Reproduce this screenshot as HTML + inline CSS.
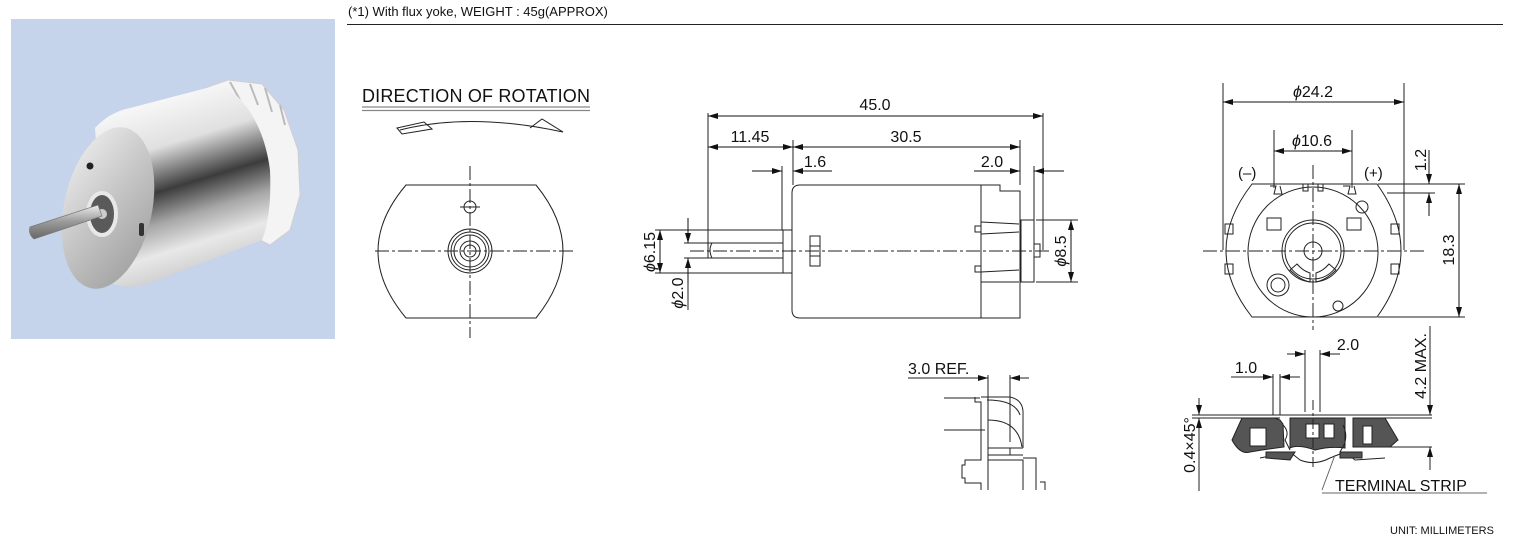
<!DOCTYPE html>
<html><head><meta charset="utf-8"><style>
html,body{margin:0;padding:0;background:#fff;width:1516px;height:546px;overflow:hidden}
svg{display:block}
text{font-family:"Liberation Sans",sans-serif;fill:#111}
</style></head><body>
<svg width="1516" height="546" viewBox="0 0 1516 546" xmlns="http://www.w3.org/2000/svg">
<defs>
<linearGradient id="can" gradientUnits="userSpaceOnUse" x1="165" y1="100" x2="215" y2="265">
<stop offset="0" stop-color="#f6f6f6"/><stop offset="0.25" stop-color="#e0e0e0"/><stop offset="0.5" stop-color="#3c3c3c"/><stop offset="0.68" stop-color="#a8a8a8"/><stop offset="0.85" stop-color="#e8e8e8"/><stop offset="1" stop-color="#d0d0d0"/>
</linearGradient>
<linearGradient id="face" x1="0" y1="0" x2="1" y2="1">
<stop offset="0" stop-color="#f2f2f2"/><stop offset="0.45" stop-color="#c8c8c8"/><stop offset="1" stop-color="#9a9a9a"/>
</linearGradient>
<linearGradient id="shaft" x1="0" y1="0" x2="0" y2="1">
<stop offset="0" stop-color="#eee"/><stop offset="0.5" stop-color="#999"/><stop offset="1" stop-color="#666"/>
</linearGradient>
<marker id="a" viewBox="0 0 10 6" refX="10" refY="3" markerWidth="10" markerHeight="6" orient="auto-start-reverse" markerUnits="userSpaceOnUse"><path d="M0,0 L10,3 L0,6 z" fill="#111"/></marker>
</defs>

<text x="348" y="16" font-size="13">(*1) With flux yoke, WEIGHT : 45g(APPROX)</text>
<line x1="347" y1="24.5" x2="1503" y2="24.5" stroke="#222" stroke-width="1"/>

<rect x="11" y="19" width="324" height="320" fill="#c5d3eb"/>
<g>
<path d="M205,88 L228,80 L262,84 L284,110 L298,150 L300,195 L290,230 L270,245 L250,235 Z" fill="#f4f4f4" stroke="#d0d0d0"/>
<path d="M230,82 L240,100 M250,84 L258,105 M265,88 L272,112 M280,105 L285,125" stroke="#bbb" stroke-width="2"/>
<path d="M95,128 Q110,112 130,108 L222,84 Q262,110 270,170 Q272,215 262,240 L145,285 Q120,290 105,280 Z" fill="url(#can)"/>
<ellipse cx="108" cy="208" rx="44" ry="82" transform="rotate(12 108 208)" fill="url(#face)"/>
<ellipse cx="102" cy="214" rx="14" ry="21" fill="#5a5a5a" stroke="#e8e8e8" stroke-width="4"/>
<circle cx="102" cy="214" r="5" fill="#ccc"/>
<path d="M30,227 L98,205 L102,216 L34,239 Q28,234 30,227 Z" fill="url(#shaft)" stroke="#777" stroke-width="0.7"/>
<circle cx="90" cy="166" r="3.5" fill="#222"/>
<rect x="139" y="223" width="5" height="13" rx="2" fill="#333"/>
</g>

<text x="362" y="102" font-size="18" textLength="228">DIRECTION OF ROTATION</text>
<line x1="362" y1="107" x2="590" y2="107" stroke="#888" stroke-width="1.2"/>
<line x1="362" y1="110.5" x2="590" y2="110.5" stroke="#888" stroke-width="1.2"/>
<g fill="none" stroke="#222" stroke-width="1">
<path d="M400,130 Q470,112 563,132"/>
<path d="M397,128 L424,122 L432,129 L402,134 Z"/>
<path d="M530,128 L542,119 L563,132"/>
<path d="M406,185 L536,185 Q590,251 536,318 L406,318 Q350,251 406,185 Z"/>
<circle cx="470" cy="207" r="6"/>
<line x1="460" y1="207" x2="480" y2="207"/>
<circle cx="470" cy="251" r="22"/><circle cx="470" cy="251" r="19"/><circle cx="470" cy="251" r="16"/><circle cx="470" cy="251" r="10"/><circle cx="470" cy="251" r="6"/>
</g>
<g stroke="#222" stroke-width="1" stroke-dasharray="14,3,3,3">
<line x1="470" y1="166" x2="470" y2="338"/>
<line x1="375" y1="251" x2="576" y2="251"/>
</g>

<g fill="none" stroke="#222" stroke-width="1">
<path d="M800,185 L981,185 M981,185 L981,318 M800,318 L1020,318 L1020,191 L1000,191 L1000,185 L981,185"/>
<path d="M800,185 Q792,185 792,193 L792,310 Q792,318 800,318"/>
<rect x="783" y="230" width="9" height="43"/>
<path d="M708,243 L783,243 M708,258 L783,258 M712,243 Q708,250 712,258"/>
<rect x="1021" y="220" width="13" height="62"/>
<rect x="1034" y="244" width="6" height="13"/>
<path d="M981,222 L1019,224 M981,234 L1019,232 M975,226 L981,226 L981,232 L975,232 Z"/>
<path d="M981,272 L1019,270 M981,282 L1019,282 M975,266 L981,266 L981,272 L975,272 Z"/>
<rect x="810" y="236" width="10" height="30"/>
<line x1="810" y1="246" x2="820" y2="246"/><line x1="810" y1="256" x2="820" y2="256"/>
<line x1="708" y1="113" x2="708" y2="258"/>
<line x1="1043" y1="113" x2="1043" y2="250"/>
<line x1="793" y1="140" x2="793" y2="185"/>
<line x1="1020" y1="140" x2="1020" y2="185"/>
<line x1="782" y1="166" x2="782" y2="230"/>
<line x1="1034" y1="166" x2="1034" y2="220"/>
<line x1="655" y1="230" x2="783" y2="230"/><line x1="655" y1="273" x2="783" y2="273"/>
<line x1="684" y1="243" x2="708" y2="243"/><line x1="684" y1="258" x2="708" y2="258"/>
<line x1="688" y1="218" x2="688" y2="243"/><line x1="688" y1="258" x2="688" y2="310"/>
<line x1="1036" y1="220" x2="1078" y2="220"/><line x1="1036" y1="282" x2="1078" y2="282"/>
</g>
<g stroke="#111" stroke-width="1" fill="none">
<line x1="708" y1="116" x2="1043" y2="116" marker-start="url(#a)" marker-end="url(#a)"/>
<line x1="708" y1="147" x2="793" y2="147" marker-start="url(#a)" marker-end="url(#a)"/>
<line x1="793" y1="147" x2="1020" y2="147" marker-start="url(#a)" marker-end="url(#a)"/>
<line x1="752" y1="171" x2="782" y2="171" marker-end="url(#a)"/>
<line x1="832" y1="171" x2="793" y2="171" marker-end="url(#a)"/>
<line x1="974" y1="171" x2="1020" y2="171" marker-end="url(#a)"/>
<line x1="1064" y1="171" x2="1034" y2="171" marker-end="url(#a)"/>
<line x1="660" y1="230" x2="660" y2="273" marker-start="url(#a)" marker-end="url(#a)"/>
<line x1="688" y1="218" x2="688" y2="243" marker-end="url(#a)"/>
<line x1="688" y1="283" x2="688" y2="258" marker-end="url(#a)"/>
<line x1="1071" y1="220" x2="1071" y2="282" marker-start="url(#a)" marker-end="url(#a)"/>
</g>
<line x1="690" y1="251" x2="1050" y2="251" stroke="#222" stroke-dasharray="14,3,3,3"/>
<g font-size="16">
<text x="875" y="110" text-anchor="middle">45.0</text>
<text x="750" y="142" text-anchor="middle">11.45</text>
<text x="906" y="142" text-anchor="middle">30.5</text>
<text x="815" y="167" text-anchor="middle">1.6</text>
<text x="992" y="167" text-anchor="middle">2.0</text>
<text transform="translate(655,252) rotate(-90)" text-anchor="middle"><tspan font-style="italic">ϕ</tspan>6.15</text>
<text transform="translate(683,293) rotate(-90)" text-anchor="middle"><tspan font-style="italic">ϕ</tspan>2.0</text>
<text transform="translate(1066,251) rotate(-90)" text-anchor="middle"><tspan font-style="italic">ϕ</tspan>8.5</text>
</g>

<text x="908" y="374" font-size="16">3.0 REF.</text>
<g fill="none" stroke="#222" stroke-width="1">
<line x1="908" y1="378" x2="988" y2="378" marker-end="url(#a)"/>
<line x1="1029" y1="378" x2="1010" y2="378" marker-end="url(#a)"/>
<line x1="988" y1="375" x2="988" y2="420"/>
<line x1="1010" y1="375" x2="1010" y2="442"/>
<line x1="944" y1="398" x2="980" y2="398"/>
<line x1="944" y1="430" x2="985" y2="430"/>
<path d="M975,397 L975,402 L981,402 L981,460 L965,460 L965,465 L962,465 L962,478 L965,478 L965,483 L981,483 L981,490"/>
<path d="M981,397 L1010,397 Q1024,400 1023,415 L1023,448 M987,400 Q1015,400 1020,415"/>
<path d="M988,420 Q1018,420 1022,447"/>
<path d="M988,420 L988,490 M988,448 L1023,448 M988,455 L1023,455 M1010,448 L1010,455 M988,460 L1023,460 L1023,490 M1023,458 L1036,458 L1036,490 M1040,482 L1045,482 L1045,490"/>
</g>

<g fill="none" stroke="#222" stroke-width="1">
<path d="M1252,184 L1377,184 Q1425,251 1377,317 L1252,317 Q1200,251 1252,184 Z"/>
<circle cx="1313" cy="252" r="65"/>
<circle cx="1313" cy="251" r="31"/><circle cx="1313" cy="251" r="28"/>
<circle cx="1313" cy="251" r="9"/>
<path d="M1297,264 L1290,270 Q1300,280 1310,282 L1310,273 Q1303,271 1297,264 Z"/>
<path d="M1329,264 L1336,270 Q1326,280 1316,282 L1316,273 Q1323,271 1329,264 Z"/>
<circle cx="1278" cy="285" r="11"/><circle cx="1278" cy="285" r="7"/>
<circle cx="1338" cy="306" r="5"/>
<circle cx="1362" cy="207" r="6"/>
<rect x="1267" y="218" width="14" height="12"/><rect x="1347" y="218" width="14" height="12"/>
<path d="M1270,186 L1276,186 L1274,194 L1282,194 L1280,186 M1343,186 L1350,186 L1348,194 L1356,194 L1354,186"/>
<rect x="1303" y="184" width="5" height="7"/><rect x="1318" y="184" width="5" height="7"/>
<rect x="1225" y="224" width="8" height="10"/><rect x="1225" y="264" width="8" height="10"/>
<rect x="1391" y="224" width="8" height="10"/><rect x="1391" y="264" width="8" height="10"/>
<line x1="1223" y1="83" x2="1223" y2="250"/>
<line x1="1404" y1="83" x2="1404" y2="250"/>
<line x1="1274" y1="130" x2="1274" y2="188"/>
<line x1="1352" y1="130" x2="1352" y2="188"/>
<line x1="1378" y1="184" x2="1465" y2="184"/>
<line x1="1387" y1="193" x2="1435" y2="193"/>
<line x1="1378" y1="317" x2="1465" y2="317"/>
</g>
<g stroke="#111" stroke-width="1" fill="none">
<line x1="1223" y1="102" x2="1404" y2="102" marker-start="url(#a)" marker-end="url(#a)"/>
<line x1="1274" y1="151" x2="1352" y2="151" marker-start="url(#a)" marker-end="url(#a)"/>
<line x1="1459" y1="184" x2="1459" y2="317" marker-start="url(#a)" marker-end="url(#a)"/>
<line x1="1429" y1="150" x2="1429" y2="184" marker-end="url(#a)"/>
<line x1="1429" y1="216" x2="1429" y2="193" marker-end="url(#a)"/>
</g>
<g stroke="#222" stroke-dasharray="14,3,3,3">
<line x1="1313" y1="165" x2="1313" y2="330"/>
<line x1="1203" y1="251" x2="1425" y2="251"/>
</g>
<g font-size="16">
<text x="1313" y="97" text-anchor="middle"><tspan font-style="italic">ϕ</tspan>24.2</text>
<text x="1312" y="146" text-anchor="middle"><tspan font-style="italic">ϕ</tspan>10.6</text>
<text x="1238" y="178" font-size="15">(–)</text>
<text x="1364" y="178" font-size="15">(+)</text>
<text transform="translate(1426,160) rotate(-90)" text-anchor="middle">1.2</text>
<text transform="translate(1454,250) rotate(-90)" text-anchor="middle">18.3</text>
</g>

<g stroke="#222" stroke-width="1">
<path d="M1242,418 L1275,418 L1280,420 L1283,424 L1284,447 L1262,450 L1250,452 Q1240,455 1232,440 Z" fill="#555"/>
<path d="M1290,418 L1345,418 L1345,448 Q1330,446 1315,450 Q1298,444 1290,448 Z" fill="#555"/>
<path d="M1353,418 L1385,418 L1398,440 L1390,447 L1353,447 Z" fill="#555"/>
<rect x="1250" y="428" width="16" height="18" fill="#fff"/>
<rect x="1306" y="424" width="13" height="14" fill="#fff"/>
<rect x="1324" y="424" width="10" height="14" fill="#fff"/>
<rect x="1363" y="426" width="9" height="18" fill="#fff"/>
<path d="M1260,458 L1290,452 L1300,460 Q1315,466 1330,458 L1345,452 L1355,460 L1385,458" fill="none"/>
<path d="M1266,452 L1295,452 L1290,460 L1266,458 Z" fill="#555"/>
<path d="M1340,452 L1362,452 L1362,458 L1340,458 Z" fill="#555"/>
<path d="M1283,425 Q1290,432 1285,440 L1290,450" fill="none"/>
<path d="M1343,425 Q1348,435 1344,445 L1340,452" fill="none"/>
</g>
<g stroke="#222" stroke-width="1" fill="none">
<line x1="1192" y1="415" x2="1432" y2="415"/>
<line x1="1192" y1="418" x2="1280" y2="418"/>
<line x1="1385" y1="418" x2="1432" y2="418"/>
<line x1="1390" y1="447" x2="1432" y2="447"/>
<line x1="1273" y1="374" x2="1273" y2="415"/>
<line x1="1280" y1="374" x2="1280" y2="415"/>
<line x1="1305" y1="350" x2="1305" y2="412"/>
<line x1="1320" y1="350" x2="1320" y2="412"/>
<line x1="1231" y1="377" x2="1273" y2="377" marker-end="url(#a)"/>
<line x1="1300" y1="377" x2="1280" y2="377" marker-end="url(#a)"/>
<line x1="1287" y1="354" x2="1305" y2="354" marker-end="url(#a)"/>
<line x1="1340" y1="354" x2="1320" y2="354" marker-end="url(#a)"/>
<line x1="1199" y1="398" x2="1199" y2="415" marker-end="url(#a)"/>
<line x1="1199" y1="491" x2="1199" y2="418" marker-end="url(#a)"/>
<line x1="1430" y1="326" x2="1430" y2="415" marker-end="url(#a)"/>
<line x1="1430" y1="470" x2="1430" y2="447" marker-end="url(#a)"/>
<line x1="1313" y1="400" x2="1313" y2="470" stroke-dasharray="10,3,3,3"/>
<path d="M1322,490 L1335,455 M1322,493 L1487,493" stroke="#666"/>
</g>
<g font-size="16">
<text x="1246" y="373" text-anchor="middle">1.0</text>
<text x="1348" y="350" text-anchor="middle">2.0</text>
<text transform="translate(1426,366) rotate(-90)" text-anchor="middle">4.2 MAX.</text>
<text transform="translate(1195,445) rotate(-90)" text-anchor="middle">0.4×45°</text>
<text x="1335" y="491">TERMINAL STRIP</text>
</g>
<text x="1390" y="534" font-size="11">UNIT: MILLIMETERS</text>
</svg>
</body></html>
